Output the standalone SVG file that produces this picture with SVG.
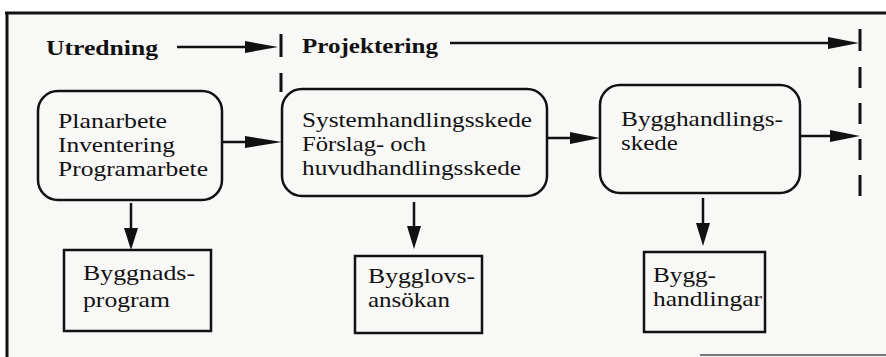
<svg xmlns="http://www.w3.org/2000/svg" width="886" height="357" viewBox="0 0 886 357">
  <style>
    .t { font-family: "Liberation Serif", "Times New Roman", serif; font-size: 21px; fill: #111; }
    .b { font-weight: bold; font-size: 21px; }
    .stage { fill: none; stroke: #111; stroke-width: 2.5; }
    .doc { fill: none; stroke: #111; stroke-width: 2.5; }
    .ln { stroke: #111; stroke-width: 2.5; fill: none; }
    .tick { stroke: #111; stroke-width: 3; fill: none; }
    .head { fill: #111; stroke: none; }
  </style>

  <!-- page and frame -->
  <rect x="0" y="0" width="886" height="357" fill="#ffffff"/>
  <rect x="7" y="13" width="879" height="344" fill="#f8f8f7"/>
  <line x1="5" y1="13" x2="886" y2="13" stroke="#111" stroke-width="3"/>
  <line x1="7" y1="12" x2="7" y2="357" stroke="#111" stroke-width="3"/>
  <line x1="700" y1="355" x2="886" y2="355" stroke="#777" stroke-width="2"/>

  <!-- phase headings -->
  <g id="phase-utredning">
    <text class="t b" x="46" y="55" textLength="112" lengthAdjust="spacingAndGlyphs">Utredning</text>
  </g>
  <g id="phase-projektering">
    <text class="t b" x="302" y="53" textLength="136" lengthAdjust="spacingAndGlyphs">Projektering</text>
  </g>

  <!-- stages -->
  <g id="stage-utredning">
    <rect class="stage" x="38" y="91" width="184" height="109" rx="20"/>
    <text class="t" x="58" y="128" textLength="109" lengthAdjust="spacingAndGlyphs">Planarbete</text>
    <text class="t" x="58" y="152" textLength="117" lengthAdjust="spacingAndGlyphs">Inventering</text>
    <text class="t" x="58" y="176" textLength="150" lengthAdjust="spacingAndGlyphs">Programarbete</text>
  </g>
  <g id="stage-system">
    <rect class="stage" x="282" y="89" width="265" height="107" rx="20"/>
    <text class="t" x="302" y="127" textLength="230" lengthAdjust="spacingAndGlyphs">Systemhandlingsskede</text>
    <text class="t" x="302" y="151" textLength="124" lengthAdjust="spacingAndGlyphs">Förslag- och</text>
    <text class="t" x="302" y="175" textLength="219" lengthAdjust="spacingAndGlyphs">huvudhandlingsskede</text>
  </g>
  <g id="stage-bygghandling">
    <rect class="stage" x="600" y="85" width="200" height="108" rx="20"/>
    <text class="t" x="621" y="126" textLength="162" lengthAdjust="spacingAndGlyphs">Bygghandlings-</text>
    <text class="t" x="621" y="150" textLength="57" lengthAdjust="spacingAndGlyphs">skede</text>
  </g>

  <!-- documents -->
  <g id="doc-byggnadsprogram">
    <rect class="doc" x="64" y="250" width="147" height="81"/>
    <text class="t" x="83" y="280" textLength="112" lengthAdjust="spacingAndGlyphs">Byggnads-</text>
    <text class="t" x="83" y="307" textLength="87" lengthAdjust="spacingAndGlyphs">program</text>
  </g>
  <g id="doc-bygglovsansokan">
    <rect class="doc" x="355" y="256" width="127" height="77"/>
    <text class="t" x="368" y="283" textLength="107" lengthAdjust="spacingAndGlyphs">Bygglovs-</text>
    <text class="t" x="368" y="307" textLength="82" lengthAdjust="spacingAndGlyphs">ansökan</text>
  </g>
  <g id="doc-bygghandlingar">
    <rect class="doc" x="644" y="252" width="121" height="80"/>
    <text class="t" x="653" y="282" textLength="63" lengthAdjust="spacingAndGlyphs">Bygg-</text>
    <text class="t" x="653" y="306" textLength="109" lengthAdjust="spacingAndGlyphs">handlingar</text>
  </g>

  <!-- connectors -->
  <g id="connectors">
    <!-- phase arrows with end ticks -->
    <line class="ln" x1="177" y1="47" x2="250" y2="47"/>
    <polygon class="head" points="245,41 278,47 245,53"/>
    <line class="tick" x1="281" y1="34" x2="281" y2="57"/>
    <line class="tick" x1="281" y1="73" x2="281" y2="92"/>

    <line class="ln" x1="450" y1="43" x2="830" y2="43"/>
    <polygon class="head" points="828,37 859,43 828,49"/>
    <line class="tick" x1="860" y1="29" x2="860" y2="51"/>
    <line class="tick" x1="860" y1="67" x2="860" y2="199" stroke-dasharray="21 15"/>

    <!-- flow between stages -->
    <line class="ln" x1="222" y1="142" x2="250" y2="142"/>
    <polygon class="head" points="245,136 282,142 245,148"/>
    <line class="ln" x1="547" y1="138" x2="575" y2="138"/>
    <polygon class="head" points="570,132 600,138 570,144"/>
    <line class="ln" x1="800" y1="136" x2="835" y2="136"/>
    <polygon class="head" points="830,130 860,136 830,142"/>

    <!-- stage to document -->
    <line class="ln" x1="131" y1="203" x2="131" y2="232"/>
    <polygon class="head" points="124,228 138,228 131,250"/>
    <line class="ln" x1="414" y1="202" x2="414" y2="230"/>
    <polygon class="head" points="407,226 421,226 414,249"/>
    <line class="ln" x1="703" y1="198" x2="703" y2="227"/>
    <polygon class="head" points="696,223 710,223 703,246"/>
  </g>
</svg>
